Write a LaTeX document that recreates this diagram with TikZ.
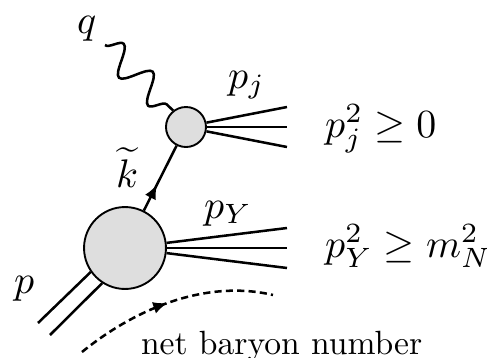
\documentclass[tikz,border=0pt]{standalone}
\usepackage{graphicx}
\usetikzlibrary{decorations.pathmorphing,decorations.markings,arrows.meta}
\definecolor{blobgray}{RGB}{222,222,222}
\begin{document}
\begin{tikzpicture}[x=0.238pt,y=-0.238pt,line width=0.6pt,
  blob/.style={circle,draw,line width=0.45pt,fill=blobgray,inner sep=0pt},
  mlabel/.style={inner sep=0pt,font=\fontsize{10}{12}\selectfont,anchor=base west,scale=0.95,transform shape},
  tlabel/.style={inner sep=0pt,font=\fontsize{10}{12}\selectfont,anchor=base west,scale=0.80,transform shape},
  photon/.style={decorate,decoration={snake,segment length=9.6pt,amplitude=3.3pt}},
  fermion/.style={postaction={decorate},decoration={markings,
      mark=at position 0.40 with {\arrow{Latex[length=3.4pt,width=2.9pt]}}}},
  flow/.style={line width=0.6pt,dash pattern=on 1.7pt off 1pt,
      postaction={decorate},decoration={markings,
      mark=at position 0.48 with {\arrow{Latex[length=3.4pt,width=2.9pt]}}}}
]
\useasboundingbox (0,0) rectangle (487,358);
% blobs
\node[blob,minimum size=9.52pt] (S) at (186,127) {};
\node[blob,minimum size=19.5pt] (B) at (125,248) {};
% photon
\coordinate (qs) at (105,45);
\draw[photon] (qs) -- (S.128);
% propagator
\draw[fermion] (B) -- (S);
% outgoing jets
\coordinate (j1) at (287,107);
\coordinate (j2) at (287,127);
\coordinate (j3) at (287,147);
\draw (S.12) -- (j1);
\draw (S.0) -- (j2);
\draw (S.-12) -- (j3);
\coordinate (y1) at (287,228);
\coordinate (y2) at (287,248);
\coordinate (y3) at (287,268);
\draw (B.7) -- (y1);
\draw (B.0) -- (y2);
\draw (B.-7) -- (y3);
% incoming proton
\coordinate (p1) at (38,323);
\coordinate (p2) at (50,335);
\draw (B.215) -- (p1);
\draw (B.237) -- (p2);
% baryon flow
\coordinate (f1) at (82,352);
\coordinate (f2) at (273,295);
\draw[flow] (f1) .. controls (140,305) and (210,280) .. (f2);
% labels
\node[mlabel] (q) at (76,33) {$q$};
\node[mlabel] (pj) at (227,88) {$p_j$};
\node[mlabel] (kt) at (115,187) {$\widetilde{k}$};
\node[mlabel] (pY) at (203,218) {$p_Y$};
\node[mlabel] (p) at (13,293) {$p$};
\node[mlabel] (e1) at (324,137) {$p_j^2 \geq 0$};
\node[mlabel] (e2) at (324,257) {$p_Y^2 \geq m_N^2$};
\node[tlabel] (nb) at (140,354) {net baryon number};
\end{tikzpicture}
\end{document}
